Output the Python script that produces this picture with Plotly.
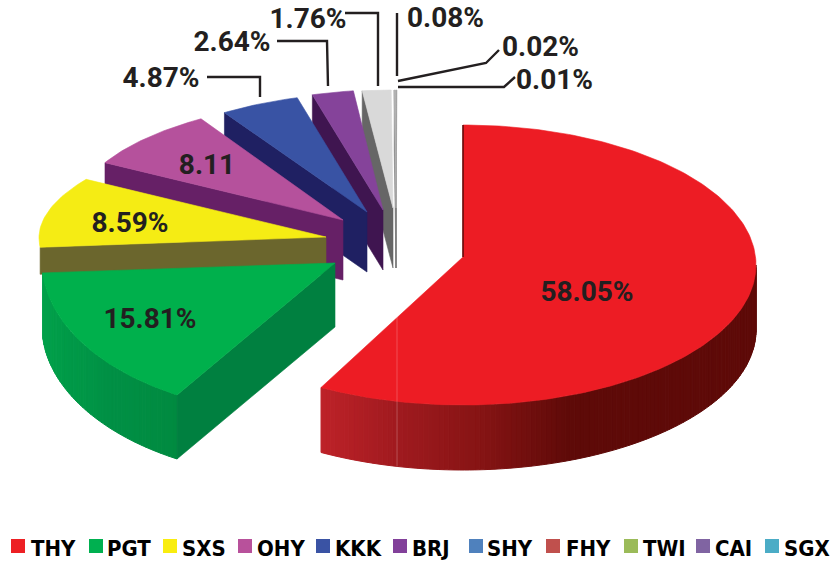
import math
import plotly.graph_objects as go

# ---------- data ----------
categories = ["THY", "PGT", "SXS", "OHY", "KKK", "BRJ", "SHY", "FHY", "TWI", "CAI", "SGX"]
values = [58.05, 15.81, 8.59, 8.11, 4.87, 2.64, 1.76, 0.08, 0.02, 0.01, 0.06]
value_labels = ["58.05%", "15.81%", "8.59%", "8.11", "4.87%", "2.64%", "1.76%", "0.08%", "0.02%", "0.01%"]
legend_colors = ["#ed2024", "#00b050", "#f9ed0f", "#b8519b", "#3a53a4", "#82409a",
                 "#4f81bd", "#c0504d", "#9bbb59", "#8064a2", "#4bacc6"]

# ---------- drawing style: face colour, wall colour, projected ellipse of each slice ----------
face_colors = ["#ed1c24", "#00b04c", "#f5ec14", "#b5519c", "#3953a4", "#85439a",
               "#d9d9d9", "#b4b4b4", "#b4b4b4", "#b4b4b4", "#b4b4b4"]
wall_colors = ["#5a0a08", "#008040", "#6b662d", "#662066", "#1f2062", "#3f1550",
               "#666666", "#808080", "#808080", "#808080", "#808080"]
# centre x, centre y, radius x, radius y, apex x, apex y, depth
projection = [
    (463, 265, 293, 140, 463, 257, 65),
    (304, 262, 262, 152, 335, 263, 64),
    (477, 238, 438, 130, 326, 237, 27),
    (362, 215, 288, 116, 343, 220, 60),
    (372, 208, 264, 115, 367, 212, 60),
    (384, 208, 253, 118, 383, 210, 60),
    (394, 208, 263, 118, 393, 208, 60),
    (397, 208, 263, 118, 396, 208, 60),
    (397, 208, 263, 118, 396, 208, 60),
    (397, 208, 263, 118, 396, 208, 60),
    (397, 208, 263, 118, 396, 208, 60),
]
red_wall_stops = [(322, "#bd2228"), (397, "#a01a1f"), (480, "#861414"), (570, "#5e0a08"), (755, "#5e0a08")]
green_wall_stops = [(43, "#00a04a"), (110, "#009045"), (180, "#008a40")]
seam_x = 397

label_places = [(587, 294, "middle center"), (150, 321, "middle center"), (130, 225, "middle center"),
                (207, 167, "middle center"), (161, 80, "middle center"), (232, 44, "middle center"),
                (308, 21, "middle center"), (407, 20, "middle right"), (502, 49, "middle right"),
                (516, 82, "middle right")]
leaders = [
    ([207, 260, 260], [77, 77, 97]),
    ([277, 327, 328], [41, 41, 86]),
    ([345, 378, 378], [13, 13, 86]),
    ([397, 397], [13, 76]),
    ([398, 486, 499], [81, 63, 50]),
    ([398, 504, 515], [87, 87, 77]),
]
legend_marker_x = [18, 96, 170, 245, 323, 400, 476, 553, 631, 703, 772]
legend_text_x = [31, 107, 182, 257, 335, 412, 487, 566, 643, 715, 784]
legend_y = 546

TEXT_DARK = "#231f20"
LABEL_FONT = "Roboto"
LEGEND_FONT = "DejaVu Sans Condensed"

fig = go.Figure()


def point(p, angle):
    cx, cy, rx, ry = p[:4]
    a = math.radians(angle)
    return cx + rx * math.sin(a), cy - ry * math.cos(a)


def poly(xs, ys, color, edge=0.6):
    fig.add_trace(go.Scatter(x=list(xs) + [xs[0]], y=list(ys) + [ys[0]], mode="lines", fill="toself",
                             fillcolor=color, line=dict(color=color, width=edge),
                             hoverinfo="skip", showlegend=False))


def arc(p, a0, a1, step=1.0):
    n = max(2, int(abs(a1 - a0) / step) + 1)
    return [point(p, a0 + (a1 - a0) * i / (n - 1)) for i in range(n)]


def mix(stops, x):
    if x <= stops[0][0]:
        return stops[0][1]
    for (x0, c0), (x1, c1) in zip(stops, stops[1:]):
        if x <= x1:
            t = (x - x0) / (x1 - x0)
            rgb = [round(int(c0[i:i + 2], 16) * (1 - t) + int(c1[i:i + 2], 16) * t) for i in (1, 3, 5)]
            return "rgb(%d,%d,%d)" % tuple(rgb)
    return stops[-1][1]


def outer_wall(p, a0, a1, stops):
    d = p[6]
    pts = arc(p, a0, a1)
    for (x0, y0), (x1, y1) in zip(pts, pts[1:]):
        poly([x0, x1, x1, x0], [y0, y1, y1 + d, y0 + d], mix(stops, (x0 + x1) / 2), edge=1)


def radial_wall(p, angle, color):
    ex, ey = point(p, angle)
    ax, ay, d = p[4], p[5], p[6]
    poly([ax, ex, ex, ax], [ay, ey, ey + d, ay + d], color)


total = sum(values)
bounds = [0.0]
for v in values:
    bounds.append(bounds[-1] + v / total * 360)

# paint from the back slices to the front ones
for i in range(len(values) - 1, -1, -1):
    p = projection[i]
    a0, a1 = bounds[i], bounds[i + 1]
    if i == 0:
        outer_wall(p, 90, a1, red_wall_stops)
    if i == 1:
        outer_wall(p, a0, a1, green_wall_stops)
    if i != 0:
        radial_wall(p, a0, wall_colors[i])
    pts = arc(p, a0, a1)
    poly([p[4]] + [q[0] for q in pts], [p[5]] + [q[1] for q in pts], face_colors[i])
    if i == 0:
        ex, ey = point(p, a0)
        fig.add_trace(go.Scatter(x=[ex, p[4]], y=[ey, p[5]], mode="lines",
                                 line=dict(color=wall_colors[0], width=1.5),
                                 hoverinfo="skip", showlegend=False))
        sin_s = (seam_x - p[0]) / p[2]
        seam_y = p[1] + p[3] * math.sqrt(1 - sin_s ** 2)
        fig.add_trace(go.Scatter(x=[seam_x, seam_x], y=[seam_y - 85, seam_y + p[6]], mode="lines",
                                 line=dict(color="rgba(255,255,255,0.22)", width=1),
                                 hoverinfo="skip", showlegend=False))

# leader lines
for xs, ys in leaders:
    fig.add_trace(go.Scatter(x=xs, y=ys, mode="lines", line=dict(color=TEXT_DARK, width=2.4),
                             hoverinfo="skip", showlegend=False))

# value labels
for text, (x, y, pos) in zip(value_labels, label_places):
    fig.add_trace(go.Scatter(x=[x], y=[y], mode="text", text=[text], textposition=pos, cliponaxis=False,
                             textfont=dict(family=LABEL_FONT, size=28, color=TEXT_DARK, weight=700),
                             hoverinfo="skip", showlegend=False))

# legend row
for name, color, mx, tx in zip(categories, legend_colors, legend_marker_x, legend_text_x):
    fig.add_trace(go.Scatter(x=[mx], y=[legend_y], mode="markers",
                             marker=dict(symbol="square", size=14, color=color, line=dict(width=0)),
                             hoverinfo="skip", showlegend=False))
    fig.add_trace(go.Scatter(x=[tx], y=[legend_y + 4], mode="text", text=[name], textposition="middle right",
                             cliponaxis=False,
                             textfont=dict(family=LEGEND_FONT, size=22, color="#000000", weight=700),
                             hoverinfo="skip", showlegend=False))

fig.update_layout(
    width=830, height=565, margin=dict(l=0, r=0, t=0, b=0),
    paper_bgcolor="white", plot_bgcolor="white", showlegend=False,
    xaxis=dict(range=[0, 830], visible=False, fixedrange=True),
    yaxis=dict(range=[565, 0], visible=False, fixedrange=True),
)
fig.write_html("out.html", config=dict(displayModeBar=False),
               post_script="document.documentElement.style.overflow='hidden';document.body.style.margin='0';")
